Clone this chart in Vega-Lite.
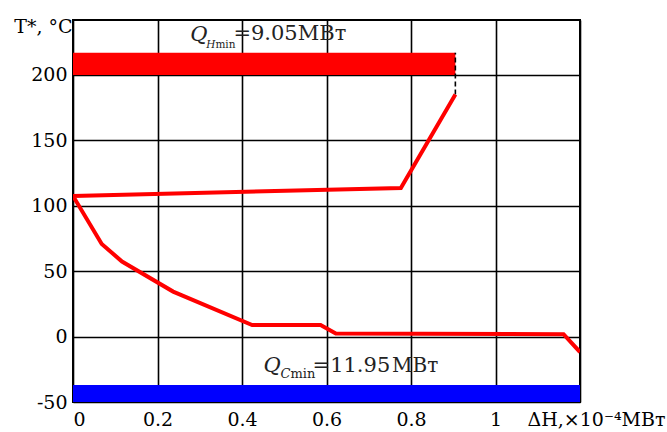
{
  "$schema": "https://vega.github.io/schema/vega-lite/v6.json",
  "width": 507,
  "height": 382,
  "autosize": "none",
  "padding": {"left": 73, "top": 20, "right": 87, "bottom": 30},
  "background": "white",
  "config": {
    "view": {"stroke": "black", "strokeWidth": 2},
    "font": "DejaVu Serif",
    "text": {"font": "DejaVu Serif"},
    "axis": {
      "domain": false,
      "ticks": false,
      "grid": true,
      "gridColor": "black",
      "gridOpacity": 1,
      "gridWidth": 1.6,
      "labelFont": "DejaVu Serif",
      "labelFontSize": 19,
      "labelColor": "black",
      "titleFont": "DejaVu Serif",
      "titleFontWeight": "normal",
      "titleFontSize": 19,
      "titleColor": "black"
    }
  },
  "datasets": {
    "curve": [
      {"order": 1, "dh": 0.905, "t": 185},
      {"order": 2, "dh": 0.776, "t": 113.5},
      {"order": 3, "dh": 0.0, "t": 107.5},
      {"order": 4, "dh": 0.068, "t": 70.8},
      {"order": 5, "dh": 0.116, "t": 57.4},
      {"order": 6, "dh": 0.237, "t": 34.4},
      {"order": 7, "dh": 0.424, "t": 8.8},
      {"order": 8, "dh": 0.586, "t": 8.8},
      {"order": 9, "dh": 0.622, "t": 2.3},
      {"order": 10, "dh": 1.161, "t": 1.8},
      {"order": 11, "dh": 1.2, "t": -11.8}
    ],
    "hot": [{"x0": 0, "x1": 0.905, "y0": 200, "y1": 217}],
    "cold": [{"x0": 0, "x1": 1.2, "y0": -50, "y1": -37}],
    "dash": [{"x": 0.905, "y0": 185, "y1": 217}]
  },
  "layer": [
    {
      "data": {"name": "hot"},
      "mark": {"type": "rect", "color": "#ff0000"},
      "encoding": {
        "x": {"field": "x0", "type": "quantitative",
          "scale": {"domain": [0, 1.2], "nice": false, "zero": false},
          "axis": {
            "values": [0, 0.2, 0.4, 0.6, 0.8, 1, 1.2],
            "format": "~g",
            "labelExpr": "datum.value > 1.1 ? '' : datum.label",
            "labelPadding": 8,
            "labelBaseline": "top",
            "title": "ΔH,×10⁻⁴МВт",
            "titleAnchor": null,
            "titleAlign": "right",
            "titleBaseline": "alphabetic",
            "titleX": 592,
            "titleY": 23
          }
        },
        "x2": {"field": "x1"},
        "y": {"field": "y0", "type": "quantitative",
          "scale": {"domain": [-50, 242], "nice": false, "zero": false},
          "axis": {
            "values": [-50, 0, 50, 100, 150, 200],
            "labelExpr": "datum.value < 0 ? '-' + abs(datum.value) : '' + datum.value",
            "labelPadding": 6,
            "title": "T*, °C",
            "titleAngle": 0,
            "titleAnchor": null,
            "titleAlign": "right",
            "titleBaseline": "alphabetic",
            "titleX": -1,
            "titleY": 12
          }
        },
        "y2": {"field": "y1"}
      }
    },
    {
      "data": {"name": "cold"},
      "mark": {"type": "rect", "color": "#0000ff"},
      "encoding": {
        "x": {"field": "x0", "type": "quantitative"},
        "x2": {"field": "x1"},
        "y": {"field": "y0", "type": "quantitative"},
        "y2": {"field": "y1"}
      }
    },
    {
      "data": {"name": "dash"},
      "mark": {"type": "rule", "color": "black", "strokeWidth": 1.6, "strokeDash": [5, 3]},
      "encoding": {
        "x": {"field": "x", "type": "quantitative"},
        "y": {"field": "y0", "type": "quantitative"},
        "y2": {"field": "y1"}
      }
    },
    {
      "data": {"name": "curve"},
      "mark": {"type": "line", "color": "#ff0000", "strokeWidth": 4, "clip": true},
      "encoding": {
        "x": {"field": "dh", "type": "quantitative"},
        "y": {"field": "t", "type": "quantitative"},
        "order": {"field": "order", "type": "quantitative"}
      }
    },
    {
      "data": {"values": [{"s": "Q"}]},
      "mark": {"type": "text", "align": "left", "baseline": "alphabetic", "fontStyle": "italic", "fontSize": 21, "color": "#222"},
      "encoding": {"x": {"datum": 0.2776}, "y": {"datum": 226.2}, "text": {"field": "s"}}
    },
    {
      "data": {"values": [{"s": "H"}]},
      "mark": {"type": "text", "align": "left", "baseline": "alphabetic", "fontStyle": "italic", "fontSize": 10.5, "color": "#222"},
      "encoding": {"x": {"datum": 0.3155}, "y": {"datum": 220.8}, "text": {"field": "s"}}
    },
    {
      "data": {"values": [{"s": "min"}]},
      "mark": {"type": "text", "align": "left", "baseline": "alphabetic", "fontSize": 10.5, "color": "#222"},
      "encoding": {"x": {"datum": 0.337}, "y": {"datum": 220.8}, "text": {"field": "s"}}
    },
    {
      "data": {"values": [{"s": "=9.05МВт"}]},
      "mark": {"type": "text", "align": "left", "baseline": "alphabetic", "fontSize": 21, "color": "#222"},
      "encoding": {"x": {"datum": 0.3796}, "y": {"datum": 226.9}, "text": {"field": "s"}}
    },
    {
      "data": {"values": [{"s": "Q"}]},
      "mark": {"type": "text", "align": "left", "baseline": "alphabetic", "fontStyle": "italic", "fontSize": 21, "color": "#222"},
      "encoding": {"x": {"datum": 0.4508}, "y": {"datum": -27.2}, "text": {"field": "s"}}
    },
    {
      "data": {"values": [{"s": "C"}]},
      "mark": {"type": "text", "align": "left", "baseline": "alphabetic", "fontStyle": "italic", "fontSize": 13, "color": "#222"},
      "encoding": {"x": {"datum": 0.4911}, "y": {"datum": -31.8}, "text": {"field": "s"}}
    },
    {
      "data": {"values": [{"s": "min"}]},
      "mark": {"type": "text", "align": "left", "baseline": "alphabetic", "fontSize": 13, "color": "#222"},
      "encoding": {"x": {"datum": 0.5148}, "y": {"datum": -31.8}, "text": {"field": "s"}}
    },
    {
      "data": {"values": [{"s": "=11.95"}]},
      "mark": {"type": "text", "align": "left", "baseline": "alphabetic", "fontSize": 21, "color": "#222"},
      "encoding": {"x": {"datum": 0.567}, "y": {"datum": -27.2}, "text": {"field": "s"}}
    },
    {
      "data": {"values": [{"s": "МВт"}]},
      "mark": {"type": "text", "align": "left", "baseline": "alphabetic", "fontSize": 20, "color": "#222"},
      "encoding": {"x": {"datum": 0.755}, "y": {"datum": -27.2}, "text": {"field": "s"}}
    }
  ]
}
